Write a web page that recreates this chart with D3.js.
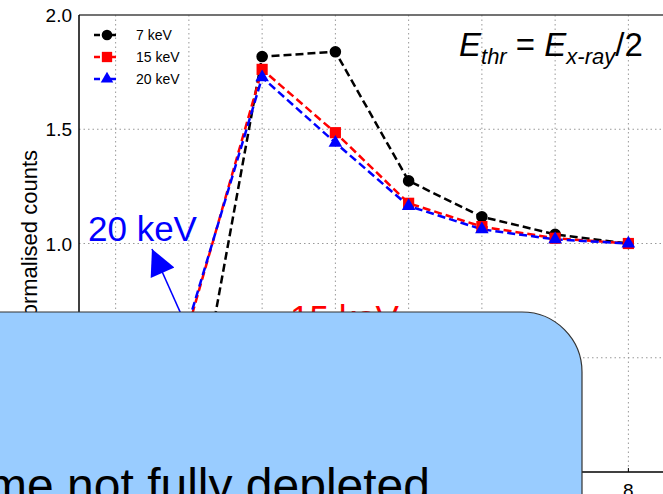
<!DOCTYPE html>
<html>
<head>
<meta charset="utf-8">
<script src="https://cdn.jsdelivr.net/npm/d3@7"></script>
<style>
  body { margin: 0; background: #fff; overflow: hidden; }
  svg { display: block; font-family: "Liberation Sans", Arial, sans-serif; }
</style>
</head>
<body>
<script>
// chart data (points at x=1 are hidden under the callout box)
var pixels = [2, 3, 4, 5, 6, 7, 8];
var kev7  = [0.05, 1.818, 1.839, 1.274, 1.117, 1.040, 1.0];
var kev15 = [0.64, 1.762, 1.485, 1.176, 1.074, 1.023, 1.0];
var kev20 = [0.66, 1.727, 1.441, 1.164, 1.062, 1.018, 1.0];
var seriesNames = ["7 keV", "15 keV", "20 keV"];
var yTicks = [0.5, 1.0, 1.5, 2.0];
var xTicks = [1, 2, 3, 4, 5, 6, 7, 8];

var width = 663, height = 494;
var svg = d3.select("body").append("svg").attr("width", width).attr("height", height);

var x = d3.scaleLinear().domain([0.5, 8.5]).range([79, 665]);
var y = d3.scaleLinear().domain([0, 2]).range([472, 15]);

// grid
svg.append("g").selectAll("line").data(xTicks).enter().append("line")
    .attr("x1", d => x(d)).attr("x2", d => x(d))
    .attr("y1", y(2)).attr("y2", y(0))
    .style("stroke", "#999").style("stroke-width", 1).style("stroke-dasharray", "1.5,3");
svg.append("g").selectAll("line").data(yTicks.filter(d => d < 2)).enter().append("line")
    .attr("x1", x(0.5)).attr("x2", width)
    .attr("y1", d => y(d)).attr("y2", d => y(d))
    .style("stroke", "#999").style("stroke-width", 1).style("stroke-dasharray", "1.5,3");

// spines
svg.append("line").attr("x1", x(0.5)).attr("x2", width).attr("y1", y(2)).attr("y2", y(2))
    .style("stroke", "#444").style("stroke-width", 1.5);
svg.append("line").attr("x1", x(0.5)).attr("x2", x(0.5)).attr("y1", y(2)).attr("y2", y(0))
    .style("stroke", "#000").style("stroke-width", 1.5);
svg.append("line").attr("x1", x(0.5)).attr("x2", width).attr("y1", y(0)).attr("y2", y(0))
    .style("stroke", "#000").style("stroke-width", 1.5);
svg.append("g").selectAll("line").data(xTicks).enter().append("line")
    .attr("x1", d => x(d)).attr("x2", d => x(d))
    .attr("y1", y(0)).attr("y2", y(0) - 4)
    .style("stroke", "#000").style("stroke-width", 1);

// tick labels (only the last x label shows beside the box)
svg.append("g").selectAll("text").data(yTicks).enter().append("text")
    .attr("x", 72).attr("y", d => y(d) + 7)
    .attr("text-anchor", "end").style("font-size", "19px")
    .text(d => d.toFixed(1));
svg.append("g").selectAll("text").data(xTicks.slice(-1)).enter().append("text")
    .attr("x", d => x(d)).attr("y", y(0) + 25)
    .attr("text-anchor", "middle").style("font-size", "19px")
    .text(d => d);

svg.append("text")
    .attr("transform", "translate(37,150) rotate(-90)")
    .attr("text-anchor", "end").style("font-size", "22px")
    .text("Normalised counts");

// series
var series = [
  { name: seriesNames[0], values: kev7,  color: "#000000", shape: d3.symbolCircle,   size: 105 },
  { name: seriesNames[1], values: kev15, color: "#ff0000", shape: d3.symbolSquare,   size: 125 },
  { name: seriesNames[2], values: kev20, color: "#0000ff", shape: d3.symbolTriangle, size: 80 }
];

var line = d3.line().x((d, i) => x(pixels[i])).y(d => y(d));

series.forEach(function(s) {
    svg.append("path").datum(s.values)
        .attr("d", line)
        .style("fill", "none").style("stroke", s.color)
        .style("stroke-width", 2.5).style("stroke-dasharray", "8,4");
});
series.forEach(function(s) {
    svg.append("g").selectAll("path").data(s.values).enter().append("path")
        .attr("transform", (d, i) => "translate(" + x(pixels[i]) + "," + y(d) + ")")
        .attr("d", d3.symbol().type(s.shape).size(s.size))
        .style("fill", s.color);
});

// legend
var legend = svg.append("g").selectAll("g").data(series).enter().append("g")
    .attr("transform", (d, i) => "translate(0," + (35 + i * 22) + ")");
legend.append("line").attr("x1", 94).attr("x2", 116).attr("y1", 0).attr("y2", 0)
    .style("stroke", d => d.color).style("stroke-width", 2.5).style("stroke-dasharray", "6,10");
legend.append("path").attr("transform", "translate(107,0)")
    .attr("d", d => d3.symbol().type(d.shape).size(d.size * 0.85)())
    .style("fill", d => d.color);
legend.append("text").attr("x", 136).attr("y", 5)
    .style("font-size", "14px").text(d => d.name);

// formula
var f = svg.append("text").attr("x", 459).attr("y", 56).style("font-size", "33px");
f.append("tspan").style("font-style", "italic").text("E");
f.append("tspan").style("font-style", "italic").style("font-size", "22px").attr("dy", 8).text("thr");
f.append("tspan").attr("dy", -8).text(" = ");
f.append("tspan").style("font-style", "italic").text("E");
f.append("tspan").style("font-style", "italic").style("font-size", "22px").attr("dy", 8).text("x-ray");
f.append("tspan").attr("dy", -8).text("/2");

// annotations
svg.append("defs").append("marker")
    .attr("id", "arrow").attr("viewBox", "0 0 10 10")
    .attr("refX", 10).attr("refY", 5)
    .attr("markerWidth", 36).attr("markerHeight", 26)
    .attr("markerUnits", "userSpaceOnUse")
    .attr("orient", "auto")
    .append("path").attr("d", "M0,0 L10,5 L0,10 Z").style("fill", "#0000ff");
svg.append("line")
    .attr("x1", x(2.02)).attr("y1", y(0.6))
    .attr("x2", x(1.496)).attr("y2", y(0.976))
    .attr("marker-end", "url(#arrow)")
    .style("stroke", "#0000ff").style("stroke-width", 1.5);

svg.append("text").attr("x", 88).attr("y", 241)
    .style("font-size", "35px").style("fill", "#0000ff").text("20 keV");
svg.append("text").attr("x", 290).attr("y", 330)
    .style("font-size", "35px").style("fill", "#ff0000").text("15 keV");

// callout box over the lower part
svg.append("rect")
    .attr("x", -80).attr("y", 312).attr("width", 662).attr("height", 300)
    .attr("rx", 60).attr("ry", 60)
    .style("fill", "#99ccff").style("stroke", "#333").style("stroke-width", 1.2);
svg.append("text").attr("x", 430).attr("y", 502)
    .attr("text-anchor", "end").style("font-size", "48px")
    .text("Volume not fully depleted");
</script>
</body>
</html>
